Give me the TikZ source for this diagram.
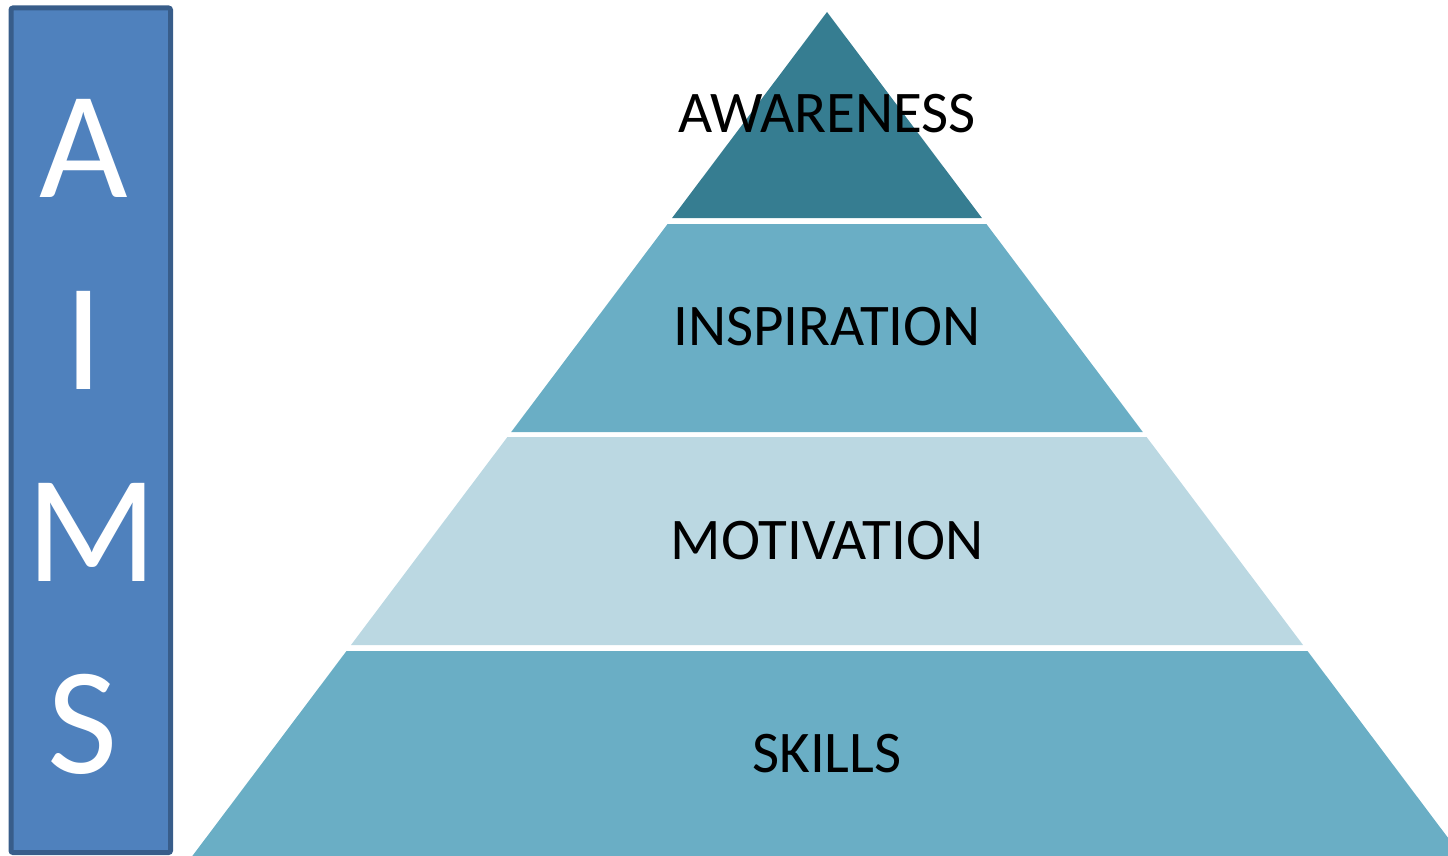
\documentclass[tikz,border=0pt]{standalone}
\usepackage{fontspec}
\setmainfont{Carlito}
\definecolor{boxfill}{HTML}{4F81BD}
\definecolor{boxline}{HTML}{385D8A}
\definecolor{bandA}{HTML}{367D91}
\definecolor{bandB}{HTML}{6AAEC5}
\definecolor{bandC}{HTML}{BBD8E2}
\begin{document}
\begin{tikzpicture}[x=1pt,y=-1pt,
  letter/.style={text=white,font=\fontsize{153}{153}\selectfont,inner sep=0pt,anchor=base},
  lvl/.style={text=black,font=\fontsize{59}{59}\selectfont,inner sep=0pt,anchor=base},
  band/.style={draw=none}]
\useasboundingbox (0,0) rectangle (1448,856);
\begin{scope}
\clip (0,0) rectangle (1448,856);
\fill[bandA] (827,12) -- (981.9,218) -- (672.1,218) -- cycle;
\fill[bandB] (667.6,224) -- (986.4,224) -- (1142.8,432) -- (511.2,432) -- cycle;
\fill[bandC] (507.4,437) -- (1146.6,437) -- (1303,645) -- (351,645) -- cycle;
\fill[bandB] (346.5,651) -- (1307.5,651) -- (1472.2,870) -- (181.8,870) -- cycle;
\end{scope}
\node[draw=boxline,fill=boxfill,line width=5pt,rounded corners=2pt,minimum width=159.5pt,minimum height=844.5pt,inner sep=0pt] (aims) at (90.75,430.25) {};
\node[letter] (la) at (83.5,197) {A};
\node[letter] (li) at (83.5,389) {I};
\node[letter] (lm) at (92,581) {M};
\node[letter] (ls) at (82.5,773) {S};
\node[lvl] (awareness) at (827,132) {AWARENESS};
\node[lvl] (inspiration) at (827,345) {INSPIRATION};
\node[lvl] (motivation) at (827,559) {MOTIVATION};
\node[lvl] (skills) at (827,772) {SKILLS};
\end{tikzpicture}
\end{document}
